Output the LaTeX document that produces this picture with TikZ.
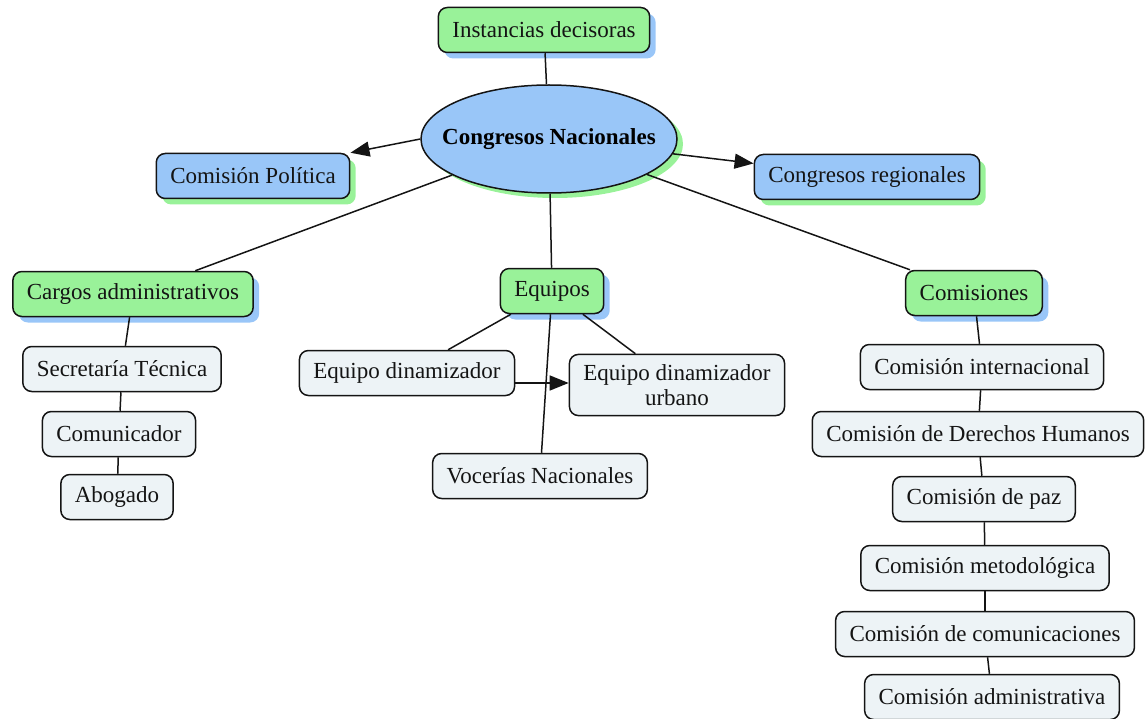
\documentclass[tikz,border=0pt]{standalone}
\usepackage{fontspec}
\setmainfont{Liberation Serif}
\usetikzlibrary{shapes.geometric,shadows,arrows.meta}
\definecolor{gfill}{HTML}{99F299}
\definecolor{bfill}{HTML}{99C6F8}
\definecolor{wfill}{HTML}{EDF3F6}
\definecolor{edge}{HTML}{141414}
\begin{document}
\begin{tikzpicture}[x=1pt,y=-1pt,
  base/.style={draw=edge, line width=1.5pt, rounded corners=9pt, text=black!92,
    font=\fontsize{23}{25}\selectfont, inner xsep=14pt, inner ysep=10pt,
    minimum height=45pt, align=center},
  gbox/.style={base, fill=gfill, drop shadow={shadow xshift=6pt, shadow yshift=-6pt, fill=bfill, opacity=1}},
  bbox/.style={base, fill=bfill, drop shadow={shadow xshift=6pt, shadow yshift=-6pt, fill=gfill, opacity=1}},
  wbox/.style={base, fill=wfill},
  link/.style={line width=1.5pt, draw=edge},
  arr/.style={link, -{Triangle[length=19pt,width=15pt]}}
]
\useasboundingbox (0,0) rectangle (1147,719);

% nodes
\node[ellipse, draw=edge, line width=1.5pt, fill=bfill, minimum width=256pt, minimum height=108pt,
  inner xsep=-25pt, inner ysep=0pt, text=black,
  font=\fontsize{23}{25}\selectfont\bfseries,
  drop shadow={shadow xshift=6pt, shadow yshift=-5pt, fill=gfill, opacity=1}] (CN) at (549,139) {Congresos Nacionales};
\node[gbox] (ID) at (544,30) {Instancias decisoras};
\node[bbox] (CP) at (253,176) {Comisión Política};
\node[bbox] (CR) at (867,177) {Congresos regionales};
\node[gbox] (CA) at (133,294) {Cargos administrativos};
\node[gbox] (EQ) at (552,291) {Equipos};
\node[gbox] (CO) at (974,293) {Comisiones};

\node[wbox] (ST) at (122,369) {Secretaría Técnica};
\node[wbox] (CM) at (119,434) {Comunicador};
\node[wbox] (AB) at (117,497) {Abogado};

\node[wbox] (ED) at (407,373) {Equipo dinamizador};
\node[wbox] (EU) at (677,385) {Equipo dinamizador\\urbano};
\node[wbox] (VN) at (540,476) {Vocerías Nacionales};

\node[wbox] (C1) at (982,367) {Comisión internacional};
\node[wbox] (C2) at (978,434) {Comisión de Derechos Humanos};
\node[wbox] (C3) at (984,499) {Comisión de paz};
\node[wbox] (C4) at (985,568) {Comisión metodológica};
\node[wbox] (C5) at (985,634) {Comisión de comunicaciones};
\node[wbox] (C6) at (992,697) {Comisión administrativa};

% connectors
\draw[link] (ID) -- (CN);
\draw[arr] (CN.west) -- (CP.north east);
\draw[arr] (CN) -- (CR);
\draw[link] (CN) -- (CA);
\draw[link] (CN) -- (EQ);
\draw[link] (CN) -- (CO);

\draw[link] (CA) -- (ST);
\draw[link] (ST) -- (CM);
\draw[link] (CM) -- (AB);

\draw[link] (EQ) -- (ED);
\draw[link] (EQ) -- (EU);
\draw[link] (EQ) -- (VN);
\draw[arr] ([yshift=-10pt]ED.east) -- ([yshift=2pt]EU.west);

\draw[link] (CO) -- (C1);
\draw[link] (C1) -- (C2);
\draw[link] (C2) -- (C3);
\draw[link] (C3) -- (C4);
\draw[link] (C4) -- (C5);
\draw[link] (C5) -- (C6);
\end{tikzpicture}
\end{document}
